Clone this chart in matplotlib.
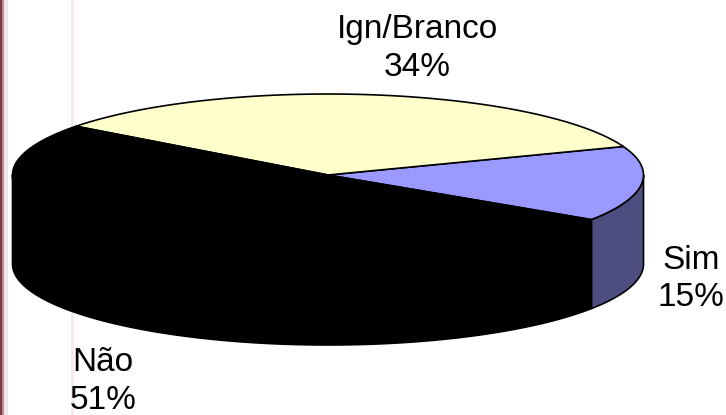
import numpy as np
import matplotlib
matplotlib.use("Agg")
import matplotlib.pyplot as plt
from matplotlib.patches import Polygon

plt.rcParams['font.family'] = ['Liberation Sans', 'DejaVu Sans']

categories = ["Ign/Branco", "Sim", "Não"]
values = [34, 15, 51]
top_colors = ["#FFFFCC", "#9999FF", "#000000"]
side_colors = ["#80805F", "#4D4D80", "#000000"]

CX, CY, A, B, DEPTH = 328, 175, 315.5, 81, 89
START = -33.4

fig = plt.figure(figsize=(7.26, 4.15), dpi=100)
ax = fig.add_axes([0, 0, 1, 1])
ax.set_xlim(0, 726)
ax.set_ylim(415, 0)
ax.axis("off")

# decorative slide background strips
ax.axvspan(0, 2, color="#7A3A40", lw=0, zorder=0)
ax.axvspan(2, 4, color="#B98F93", lw=0, zorder=0)
ax.axvspan(4, 7.5, color="#F3E4E5", lw=0, zorder=0)
ax.axvspan(71, 74, color="#F9E9EA", lw=0, zorder=0)


def ell(t, dy=0):
    r = np.radians(t)
    return np.column_stack([CX + A * np.cos(r), CY - B * np.sin(r) + dy])


order = ["Sim", "Ign/Branco", "Não"]
bounds = {}
cur = START
for name in order:
    v = values[categories.index(name)]
    bounds[name] = (cur, cur + v * 3.6)
    cur += v * 3.6

# side walls (visible only where the rim faces the viewer: 180..360 degrees)
for name in order:
    i = categories.index(name)
    t0, t1 = bounds[name]
    for lo, hi in [(t0, t1), (t0 - 360, t1 - 360)]:
        a, b = max(lo, -180), min(hi, 0)
        if a < b:
            ts = np.linspace(a, b, 200)
            pts = np.vstack([ell(ts), ell(ts[::-1], DEPTH)])
            ax.add_patch(Polygon(pts, closed=True, fc=side_colors[i], ec="black", lw=1.2, zorder=2))

# top faces
for name in order:
    i = categories.index(name)
    t0, t1 = bounds[name]
    ts = np.linspace(t0, t1, 300)
    pts = np.vstack([[CX, CY], ell(ts)])
    ax.add_patch(Polygon(pts, closed=True, fc=top_colors[i], ec="black", lw=1.2, zorder=3, joinstyle="round"))

fs = 24
labels = {"Ign/Branco": (417, 48.5), "Sim": (691, 279), "Não": (103, 381.5)}
for name, (x, y) in labels.items():
    v = values[categories.index(name)]
    ax.text(x, y, f"{name}\n{v}%", ha="center", va="center", fontsize=fs,
            color="black", linespacing=1.26, zorder=5)

fig.savefig("out.png", dpi=100)
